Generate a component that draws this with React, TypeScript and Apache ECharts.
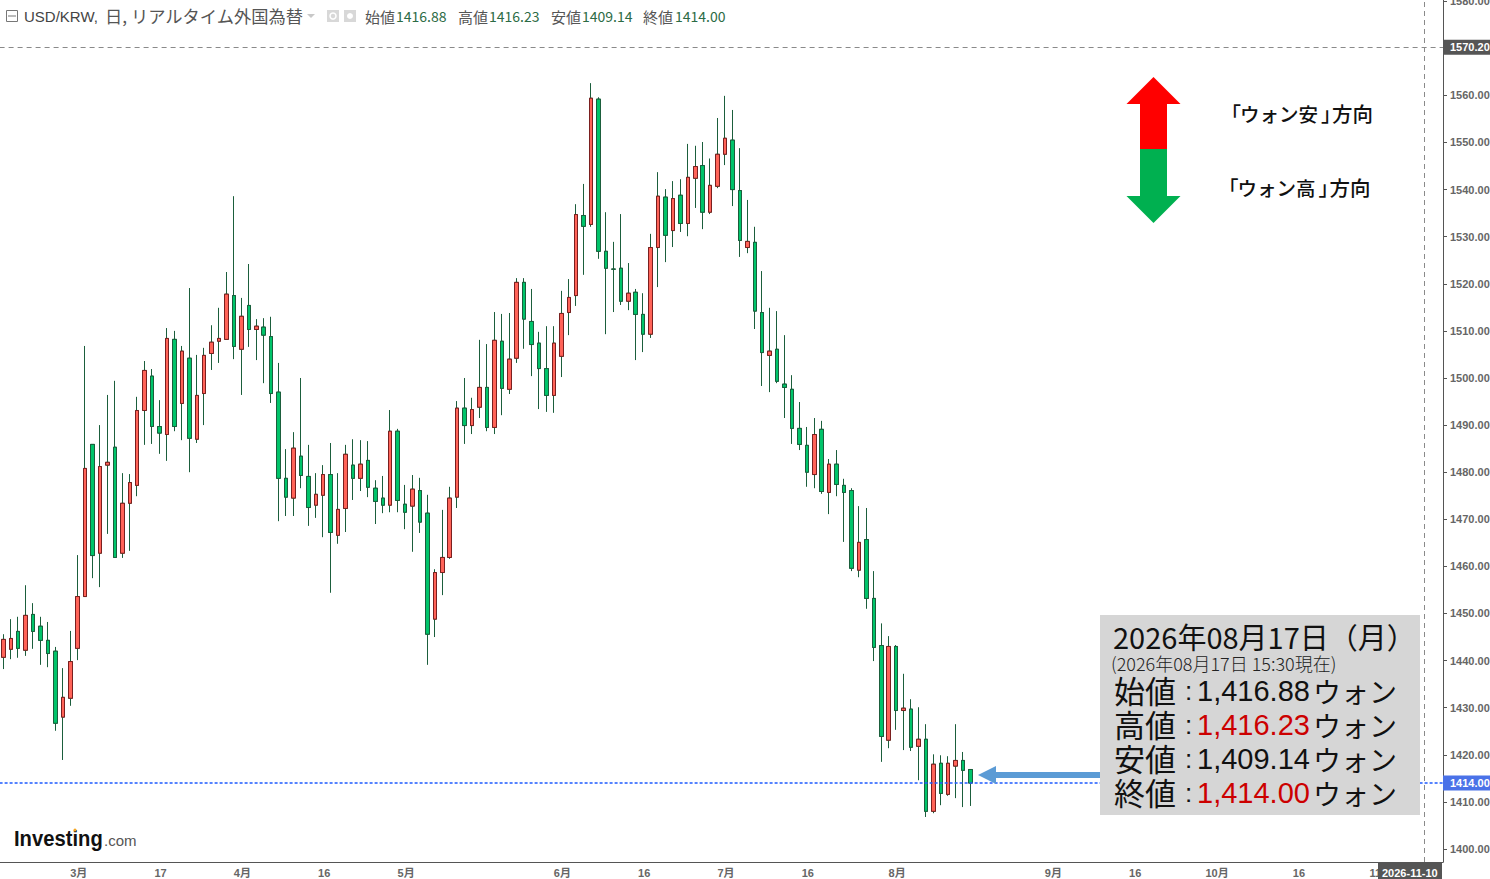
import React, { useEffect, useRef } from "react";
import * as echarts from "echarts";

const opens = [
  1440.7,1442.4,1446.2,1442.2,1449.8,1447.3,1444.3,1442.0,1428.0,1432.0,
  1442.6,1453.6,1485.9,1462.8,1481.5,1485.3,1462.8,1473.4,1477.2,1493.1,
  1500.4,1489.7,1488.0,1508.2,1494.6,1504.2,1487.0,1496.7,1505.2,1507.8,
  1508.2,1517.5,1506.1,1515.4,1510.3,1510.8,1508.8,1497.0,1478.7,1474.5,
  1483.4,1479.1,1473.0,1475.1,1479.5,1466.6,1472.3,1481.5,1478.7,1482.5,
  1476.6,1474.5,1473.0,1488.7,1473.2,1472.8,1476.1,1471.3,1448.8,1458.7,
  1461.9,1474.7,1493.6,1489.9,1493.8,1498.0,1489.5,1507.8,1497.6,1504.2,
  1520.3,1512.0,1507.4,1502.0,1496.3,1504.6,1513.9,1517.5,1534.5,1532.6,
  1559.2,1526.9,1523.1,1523.3,1516.3,1518.2,1513.5,1509.3,1527.7,1538.4,
  1531.3,1538.8,1532.8,1542.4,1545.1,1535.2,1540.7,1547.5,1550.5,1539.8,
  1527.7,1528.8,1513.9,1504.8,1506.1,1498.7,1497.6,1489.3,1485.7,1479.5,
  1489.1,1475.7,1481.7,1477.2,1476.1,1459.2,1465.7,1453.2,1443.2,1423.1,
  1443.0,1429.4,1429.7,1421.8,1423.3,1408.0,1418.2,1411.6,1417.6,1418.8,
  1416.88,
];
const closes = [
  1444.5,1444.7,1442.6,1449.6,1446.2,1444.3,1441.5,1426.7,1432.2,1439.8,
  1453.6,1480.8,1462.3,1481.2,1482.1,1461.9,1473.4,1477.8,1493.1,1501.6,
  1489.7,1488.3,1508.4,1489.7,1505.7,1487.2,1496.3,1504.8,1507.6,1508.4,
  1517.8,1506.7,1513.1,1510.3,1511.0,1509.1,1496.7,1478.7,1474.7,1485.1,
  1479.3,1472.5,1475.3,1479.5,1467.2,1472.1,1483.8,1478.7,1481.7,1476.8,
  1473.8,1473.0,1488.7,1474.0,1471.5,1476.4,1469.4,1445.6,1458.7,1461.9,
  1474.5,1493.6,1489.9,1493.3,1498.0,1489.5,1508.0,1497.8,1504.0,1520.3,
  1512.5,1507.1,1502.0,1496.3,1507.4,1513.7,1517.1,1534.7,1532.2,1559.4,
  1526.9,1523.3,1523.1,1516.3,1518.0,1513.5,1509.3,1527.7,1538.6,1530.3,
  1538.1,1532.8,1542.6,1544.9,1535.2,1540.9,1547.5,1550.9,1540.0,1529.2,
  1529.0,1514.2,1505.4,1505.7,1499.3,1498.0,1489.3,1485.9,1480.0,1488.0,
  1475.9,1481.7,1477.4,1475.7,1459.6,1465.1,1453.2,1442.8,1423.9,1443.0,
  1429.4,1429.9,1421.6,1423.3,1408.0,1418.0,1411.8,1418.2,1418.8,1416.7,
  1414.0,
];
const lows = [
  1438.2,1440.3,1440.6,1441.0,1442.5,1439.1,1438.6,1425.1,1418.9,1430.4,
  1440.1,1453.6,1457.5,1455.6,1466.9,1461.9,1461.8,1463.3,1474.9,1485.8,
  1486.0,1483.9,1482.4,1488.7,1486.8,1480.0,1486.2,1490.0,1501.7,1503.2,
  1508.2,1504.0,1496.4,1506.6,1503.8,1498.9,1494.7,1469.6,1470.7,1470.7,
  1476.6,1468.6,1470.3,1466.2,1454.4,1464.8,1467.3,1474.1,1476.0,1474.7,
  1469.0,1471.3,1471.5,1471.5,1467.9,1463.1,1467.1,1439.1,1445.0,1453.9,
  1461.6,1472.4,1486.0,1488.1,1491.5,1488.7,1488.1,1492.1,1496.6,1503.2,
  1506.2,1500.4,1493.4,1492.8,1492.6,1500.2,1509.1,1515.3,1521.9,1532.1,
  1525.3,1509.3,1514.0,1515.5,1514.4,1503.8,1505.5,1508.5,1519.3,1524.6,
  1527.8,1531.0,1530.1,1536.1,1531.6,1534.8,1540.3,1545.2,1536.5,1525.7,
  1526.5,1510.4,1498.3,1497.0,1498.9,1491.5,1486.0,1484.7,1476.9,1476.6,
  1475.4,1471.1,1474.9,1465.2,1459.0,1457.7,1451.0,1439.9,1418.5,1421.4,
  1425.3,1421.0,1420.8,1414.6,1406.8,1407.6,1409.3,1411.3,1410.8,1408.9,
  1409.14,
];
const highs = [
  1445.6,1448.8,1449.3,1456.0,1452.2,1449.3,1448.2,1442.9,1438.4,1446.3,
  1462.4,1506.8,1485.9,1490.0,1496.4,1499.4,1479.8,1479.6,1496.0,1503.6,
  1501.9,1495.3,1510.6,1510.0,1506.8,1519.1,1504.9,1506.4,1511.2,1514.9,
  1522.5,1538.6,1517.0,1524.2,1512.5,1512.7,1513.0,1503.2,1484.9,1488.5,
  1500.0,1485.8,1479.8,1481.5,1486.2,1479.8,1485.8,1487.0,1486.8,1486.6,
  1478.3,1479.2,1493.2,1489.2,1477.3,1479.4,1478.8,1475.2,1459.4,1472.0,
  1476.9,1495.1,1500.0,1495.8,1508.1,1507.2,1514.0,1513.6,1513.8,1521.2,
  1521.2,1518.9,1509.8,1511.0,1511.0,1518.5,1521.0,1536.9,1541.2,1562.6,
  1559.6,1535.2,1528.9,1534.8,1524.4,1518.9,1518.0,1530.6,1543.7,1540.1,
  1541.8,1542.2,1549.7,1549.3,1550.1,1546.6,1555.2,1559.9,1556.9,1548.8,
  1537.8,1532.1,1522.7,1514.9,1514.2,1509.1,1500.6,1494.9,1489.6,1491.5,
  1490.9,1482.8,1484.7,1478.6,1476.6,1472.8,1472.4,1459.0,1447.9,1445.2,
  1443.3,1437.2,1431.8,1430.1,1426.5,1420.1,1419.9,1419.7,1426.5,1420.6,
  1416.23,
];

const yTicks = [1400,1410,1420,1430,1440,1450,1460,1470,1480,1490,1500,1510,1520,1530,1540,1550,1560,1570,1580];
const xTickLabels: Record<string, string> = {
  "2026-03-02": "3月", "2026-03-17": "17", "2026-04-01": "4月", "2026-04-16": "16",
  "2026-05-01": "5月", "2026-06-01": "6月", "2026-06-16": "16", "2026-07-01": "7月",
  "2026-07-16": "16", "2026-08-03": "8月", "2026-09-01": "9月", "2026-09-16": "16",
  "2026-10-01": "10月", "2026-10-16": "16", "2026-11-02": "11月",
};
const lastPrice = 1414.0;
const crossPrice = 1570.2;
const crossDate = "2026-11-10";
const headerValues = [
  { name: "始値", value: "1416.88", nameX: 365, valueX: 396 },
  { name: "高値", value: "1416.23", nameX: 458, valueX: 489 },
  { name: "安値", value: "1409.14", nameX: 551, valueX: 582 },
  { name: "終値", value: "1414.00", nameX: 643, valueX: 675 },
];
const boxRows = [
  { name: "始値", value: "1,416.88", color: "#111111", y: 691 },
  { name: "高値", value: "1,416.23", color: "#CC0000", y: 725 },
  { name: "安値", value: "1,409.14", color: "#111111", y: 759 },
  { name: "終値", value: "1,414.00", color: "#CC0000", y: 793 },
];

// weekdays from 2026-02-16, one band per trading day
const categories: string[] = [];
{
  const d = new Date(Date.UTC(2026, 1, 16));
  while (categories.length < 194) {
    const w = d.getUTCDay();
    if (w !== 0 && w !== 6) categories.push(d.toISOString().slice(0, 10));
    d.setUTCDate(d.getUTCDate() + 1);
  }
}

const JP = '"Noto Sans CJK JP", "Noto Sans", sans-serif';
const LAT = '"Liberation Sans", "Noto Sans CJK JP", sans-serif';
const AXIS = "#555555";
const WICK = "#1B5E3C";

const txt = (x: number, y: number, text: string, size: number, fill: string, family = JP, weight: any = "normal", extra: any = {}) => ({
  type: "text", x, y, z: 100, silent: true,
  style: { text, fontSize: size, fontFamily: family, fontWeight: weight, fill, verticalAlign: "middle", align: "left", ...extra },
});
const poly = (points: number[][], fill: string) => ({
  type: "polygon", z: 90, silent: true, shape: { points }, style: { fill },
});
const direction = (dx: number, y: number, word: string) => [
  txt(1231 + dx, y, "｢", 20, "#111111", JP, 500),
  txt(1240 + dx, y, word, 19.5, "#111111", JP, 500),
  txt(1321 + dx, y, "｣", 20, "#111111", JP, 500),
  txt(1332 + dx, y, "方向", 20.5, "#111111", JP, 500),
];

export default function App() {
  const ref = useRef<HTMLDivElement>(null);
  useEffect(() => {
    const chart = echarts.init(ref.current!, null, { renderer: "svg" });
    const isTick = (_: number, v: string) => v in xTickLabels;
    const graphic: any[] = [
      // header
      { type: "rect", z: 100, silent: true, shape: { x: 6.5, y: 10.5, width: 11, height: 11 }, style: { fill: "#fff", stroke: "#777", lineWidth: 1 } },
      { type: "line", z: 100, silent: true, shape: { x1: 8, y1: 16, x2: 16, y2: 16 }, style: { stroke: "#777", lineWidth: 1 } },
      txt(24, 16, "USD/KRW,", 15, "#444444", LAT),
      txt(105, 15, "日, リアルタイム外国為替", 17.25, "#555555"),
      poly([[307, 14], [315, 14], [311, 18]], "#C8C8C8"),
      { type: "rect", z: 100, silent: true, shape: { x: 327, y: 10, width: 12, height: 12 }, style: { fill: "#D8D8D8" } },
      { type: "circle", z: 101, silent: true, shape: { cx: 333, cy: 16, r: 3 }, style: { fill: "none", stroke: "#fff", lineWidth: 1.5 } },
      { type: "rect", z: 100, silent: true, shape: { x: 344, y: 10, width: 12, height: 12 }, style: { fill: "#D8D8D8" } },
      { type: "circle", z: 101, silent: true, shape: { cx: 350, cy: 16, r: 3 }, style: { fill: "#fff" } },
      // direction arrows
      poly([[1153.5, 77], [1180.5, 104], [1167, 104], [1167, 149], [1140, 149], [1140, 104], [1126.5, 104]], "#FF0000"),
      poly([[1140, 149], [1167, 149], [1167, 196], [1180.5, 196], [1153.5, 223], [1126.5, 196], [1140, 196]], "#00B050"),
      ...direction(0, 113, "ウォン安"),
      ...direction(-2.5, 187, "ウォン高"),
      // info box
      { type: "rect", z: 85, silent: true, shape: { x: 1100, y: 615, width: 320, height: 200 }, style: { fill: "#D6D6D6" } },
      txt(1113, 636, "2026年08月17日（月）", 29, "#111111"),
      txt(1111, 663, "(2026年08月17日 15:30現在)", 18, "#222222", JP, 300),
      // pointer arrow
      poly([[978, 775], [996, 766], [996, 772], [1100, 772], [1100, 778], [996, 778], [996, 784]], "#5B9BD5"),
      // logo
      txt(14, 838, "Investing", 22, "#111111", LAT, "bold"),
      txt(104, 840, ".com", 15, "#555555", LAT),
      { type: "circle", z: 101, silent: true, shape: { cx: 75, cy: 830, r: 1.5 }, style: { fill: "#F5A623" } },
      // crosshair date tag
      { type: "rect", z: 100, silent: true, shape: { x: 1378, y: 862, width: 64, height: 17 }, style: { fill: "#555555" } },
      txt(1382, 873, "2026-11-10", 11, "#FFFFFF", LAT, "bold"),
    ];
    const logo = graphic.find((g) => g.style && g.style.text === "Investing");
    logo.scaleX = 0.92;
    for (const h of headerValues) {
      graphic.push(txt(h.nameX, 16, h.name, 15, "#555555"));
      graphic.push(txt(h.valueX, 16, h.value, 14, "#2C6B45"));
    }
    for (const r of boxRows) {
      graphic.push(txt(1114, r.y - 2, r.name, 31, "#111111"));
      graphic.push(txt(1185, r.y, ":", 26, "#111111", LAT));
      graphic.push(txt(1197, r.y, r.value, 29, r.color, LAT));
      graphic.push(txt(1313, r.y, "ウォン", 28, "#111111"));
    }
    chart.setOption({
      animation: false,
      backgroundColor: "#FFFFFF",
      grid: { left: -0.4, top: 0, width: 1443.4, height: 862, containLabel: false, outerBoundsMode: "none" },
      xAxis: {
        type: "category",
        data: categories,
        boundaryGap: true,
        axisLine: { lineStyle: { color: AXIS, width: 1 } },
        axisTick: { alignWithLabel: true, interval: isTick, length: 4, lineStyle: { color: AXIS } },
        axisLabel: {
          interval: isTick, hideOverlap: false, margin: 5, fontSize: 11, fontWeight: "bold", padding: [0, 0, 0, 2],
          fontFamily: LAT, color: "#666666", formatter: (v: string) => xTickLabels[v] ?? "",
        },
        splitLine: { show: false },
      },
      yAxis: {
        type: "value",
        position: "right",
        min: 1397.24,
        max: 1580.25,
        scale: true,
        axisLine: { show: true, lineStyle: { color: AXIS, width: 1 } },
        axisTick: { show: true, length: 4, customValues: yTicks, lineStyle: { color: AXIS } },
        axisLabel: {
          customValues: yTicks, margin: 7, fontSize: 11, fontWeight: "bold", fontFamily: LAT,
          color: "#666666", formatter: (v: number) => v.toFixed(2), showMinLabel: true, showMaxLabel: true,
        },
        splitLine: { show: false },
      },
      series: [
        {
          type: "candlestick",
          name: "wicks",
          barWidth: 4,
          silent: true,
          clip: false,
          data: opens.map((o, i) => [o, closes[i], lows[i], highs[i]]),
          itemStyle: { color: "#FF6358", color0: "#00C46A", borderColor: WICK, borderColor0: WICK, borderWidth: 1 },
          markLine: {
            silent: true,
            symbol: "none",
            precision: 2,
            animation: false,
            data: [
              {
                yAxis: crossPrice,
                lineStyle: { color: "#8A8A8A", type: [5, 4], width: 1 },
                label: {
                  show: true, position: "end", distance: 0, formatter: () => crossPrice.toFixed(2),
                  backgroundColor: "#555555", color: "#FFFFFF", fontSize: 11, fontWeight: "bold", fontFamily: LAT,
                  padding: [2, 8, 2, 7],
                },
              },
              {
                xAxis: crossDate,
                lineStyle: { color: "#8A8A8A", type: [5, 4], width: 1 },
                label: { show: false },
              },
            ],
          },
        },
        {
          type: "candlestick",
          name: "USD/KRW",
          barWidth: 4,
          silent: true,
          clip: false,
          data: opens.map((o, i) => [o, closes[i], Math.min(o, closes[i]), Math.max(o, closes[i])]),
          itemStyle: { color: "#FF6358", color0: "#00C46A", borderColor: "#7A1F1F", borderColor0: WICK, borderWidth: 1 },
        },
        {
          type: "line",
          name: "last",
          silent: true,
          showSymbol: false,
          z: 5,
          data: [[categories[130], lastPrice]],
          lineStyle: { color: "#1F5BFF" },
          itemStyle: { color: "#1F5BFF" },
          markLine: {
            silent: true,
            symbol: "none",
            precision: 2,
            animation: false,
            lineStyle: { color: "#1F5BFF", type: [3, 2], width: 1.5, opacity: 1 },
            data: [
              {
                yAxis: lastPrice,
                label: {
                  show: true, position: "end", distance: 0, formatter: () => lastPrice.toFixed(2),
                  backgroundColor: "#4A72E8", color: "#FFFFFF", fontSize: 11, fontWeight: "bold", fontFamily: LAT,
                  padding: [2, 8, 2, 7],
                },
              },
            ],
          },
        },
      ],
      graphic,
    });
    return () => chart.dispose();
  }, []);
  return <div ref={ref} style={{ position: "absolute", left: 0, top: 0, width: 1490, height: 879 }} />;
}
